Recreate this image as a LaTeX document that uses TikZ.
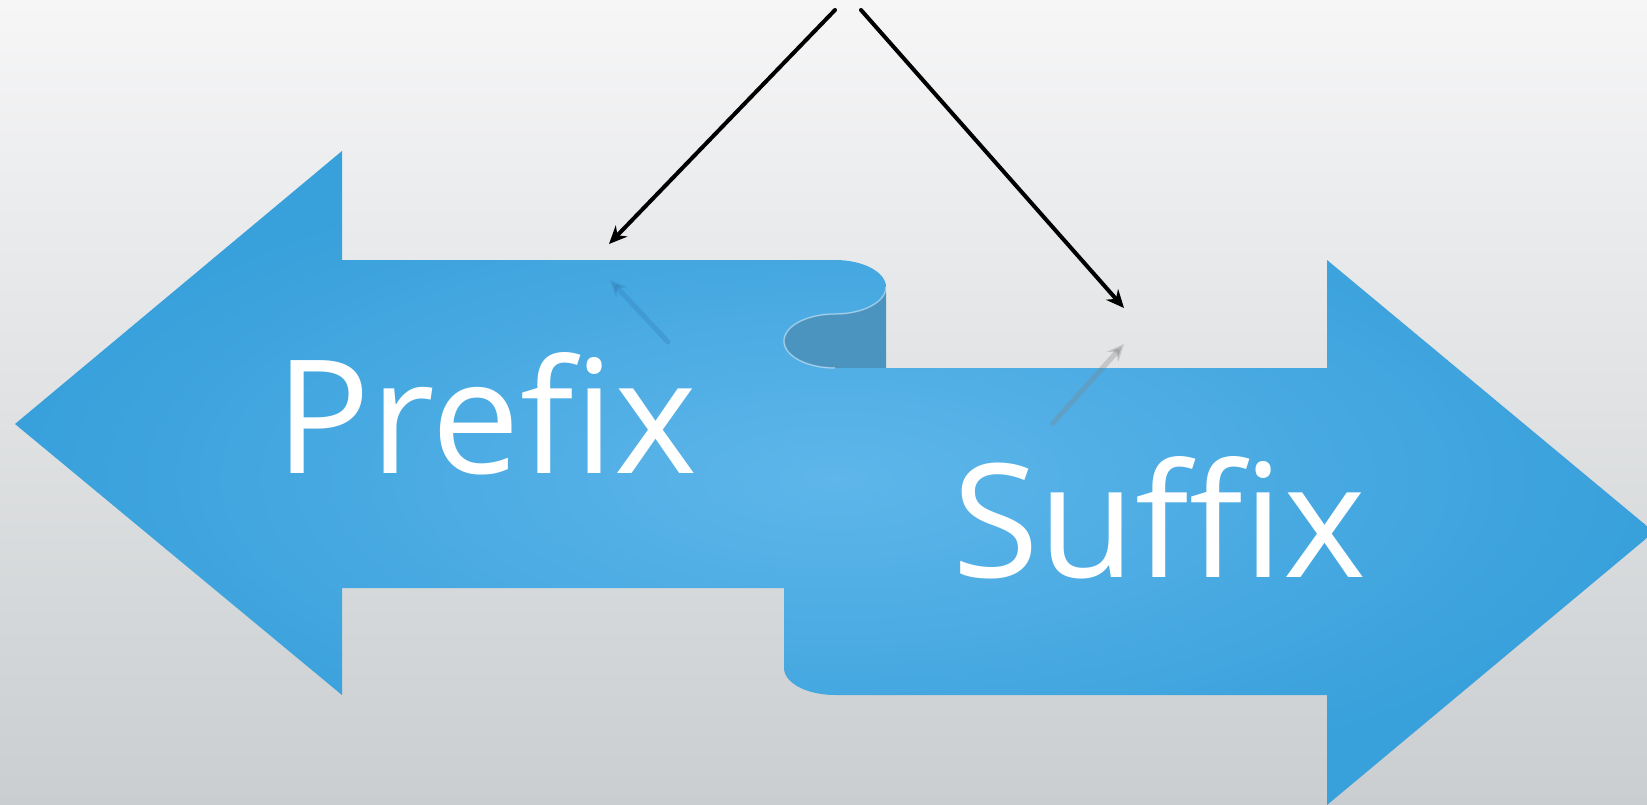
\documentclass[tikz,border=0pt]{standalone}
\usepackage{fontspec}
\newfontfamily\tagfont[Ligatures=NoCommon]{Open Sans}
\usetikzlibrary{arrows.meta, positioning}

\definecolor{bgtop}{RGB}{246,246,247}
\definecolor{bgmid}{RGB}{233,234,235}
\definecolor{bgbot}{RGB}{202,206,208}
\definecolor{ribbonin}{RGB}{94,182,234}
\definecolor{ribbonout}{RGB}{56,160,219}
\definecolor{curl}{RGB}{75,148,192}
\definecolor{ghostblue}{RGB}{52,128,185}

\begin{document}
\begin{tikzpicture}[
  x=0.1mm, y=-0.1mm,
  tag/.style={text=white, inner sep=0pt, anchor=base, font=\tagfont\fontsize{45}{52}\selectfont},
  pointer/.style={draw=black, line width=0.4mm, line cap=round, -{Stealth[length=1.8mm, width=1.6mm]}},
  ghost/.style={line width=0.5mm, line cap=round, -{Stealth[length=1.7mm, width=1.5mm]}}
]
  \useasboundingbox (0,0) rectangle (1647,805);

  % Background
  \shade[top color=bgtop, middle color=bgmid, bottom color=bgbot] (0,0) rectangle (1647,805);

  % Curl of the ribbon
  \fill[curl] (886,287) .. controls (886,302) and (863,314) .. (835,314)
    .. controls (807,314) and (784,326) .. (784,341)
    .. controls (784,356) and (807,368) .. (835,368) -- (886,368) -- cycle;

  % Double arrow ribbon
  \shade[inner color=ribbonin, outer color=ribbonout]
    (342,260) -- (835,260)
    .. controls (863,260) and (886,272) .. (886,287)
    .. controls (886,302) and (863,314) .. (835,314)
    .. controls (807,314) and (784,326) .. (784,341)
    .. controls (784,356) and (807,368) .. (835,368)
    -- (1327,368) -- (1327,260) -- (1654,532) -- (1327,805) -- (1327,695) -- (835,695)
    .. controls (807,695) and (784,683) .. (784,668)
    -- (784,588) -- (342,588) -- (342,695) -- (15,424) -- (342,151) -- cycle;
  \draw[white, opacity=0.4, line width=0.15mm] (886,287) .. controls (886,302) and (863,314) .. (835,314)
    .. controls (807,314) and (784,326) .. (784,341)
    .. controls (784,356) and (807,368) .. (835,368);

  % Labels
  \node[tag] (prefix) at (486,473) {Prefix};
  \node[tag] (suffix) at (1159,577) {Suffix};

  % Pointers
  \coordinate (apexl) at (835,10);
  \coordinate (apexr) at (861,10);
  \coordinate (prefixmark) at (609,244);
  \coordinate (suffixmark) at (1124,308);
  \draw[pointer] (apexl) -- (prefixmark);
  \draw[pointer] (apexr) -- (suffixmark);

  % Faint reflections
  \coordinate (ghostl) at (668,342);
  \coordinate (ghostlend) at (610,280);
  \coordinate (ghostr) at (1053,423);
  \coordinate (ghostrend) at (1124,344);
  \draw[ghost, draw=ghostblue, opacity=0.35] (ghostl) -- (ghostlend);
  \draw[ghost, draw=gray, opacity=0.3] (ghostr) -- (ghostrend);

\end{tikzpicture}
\end{document}
